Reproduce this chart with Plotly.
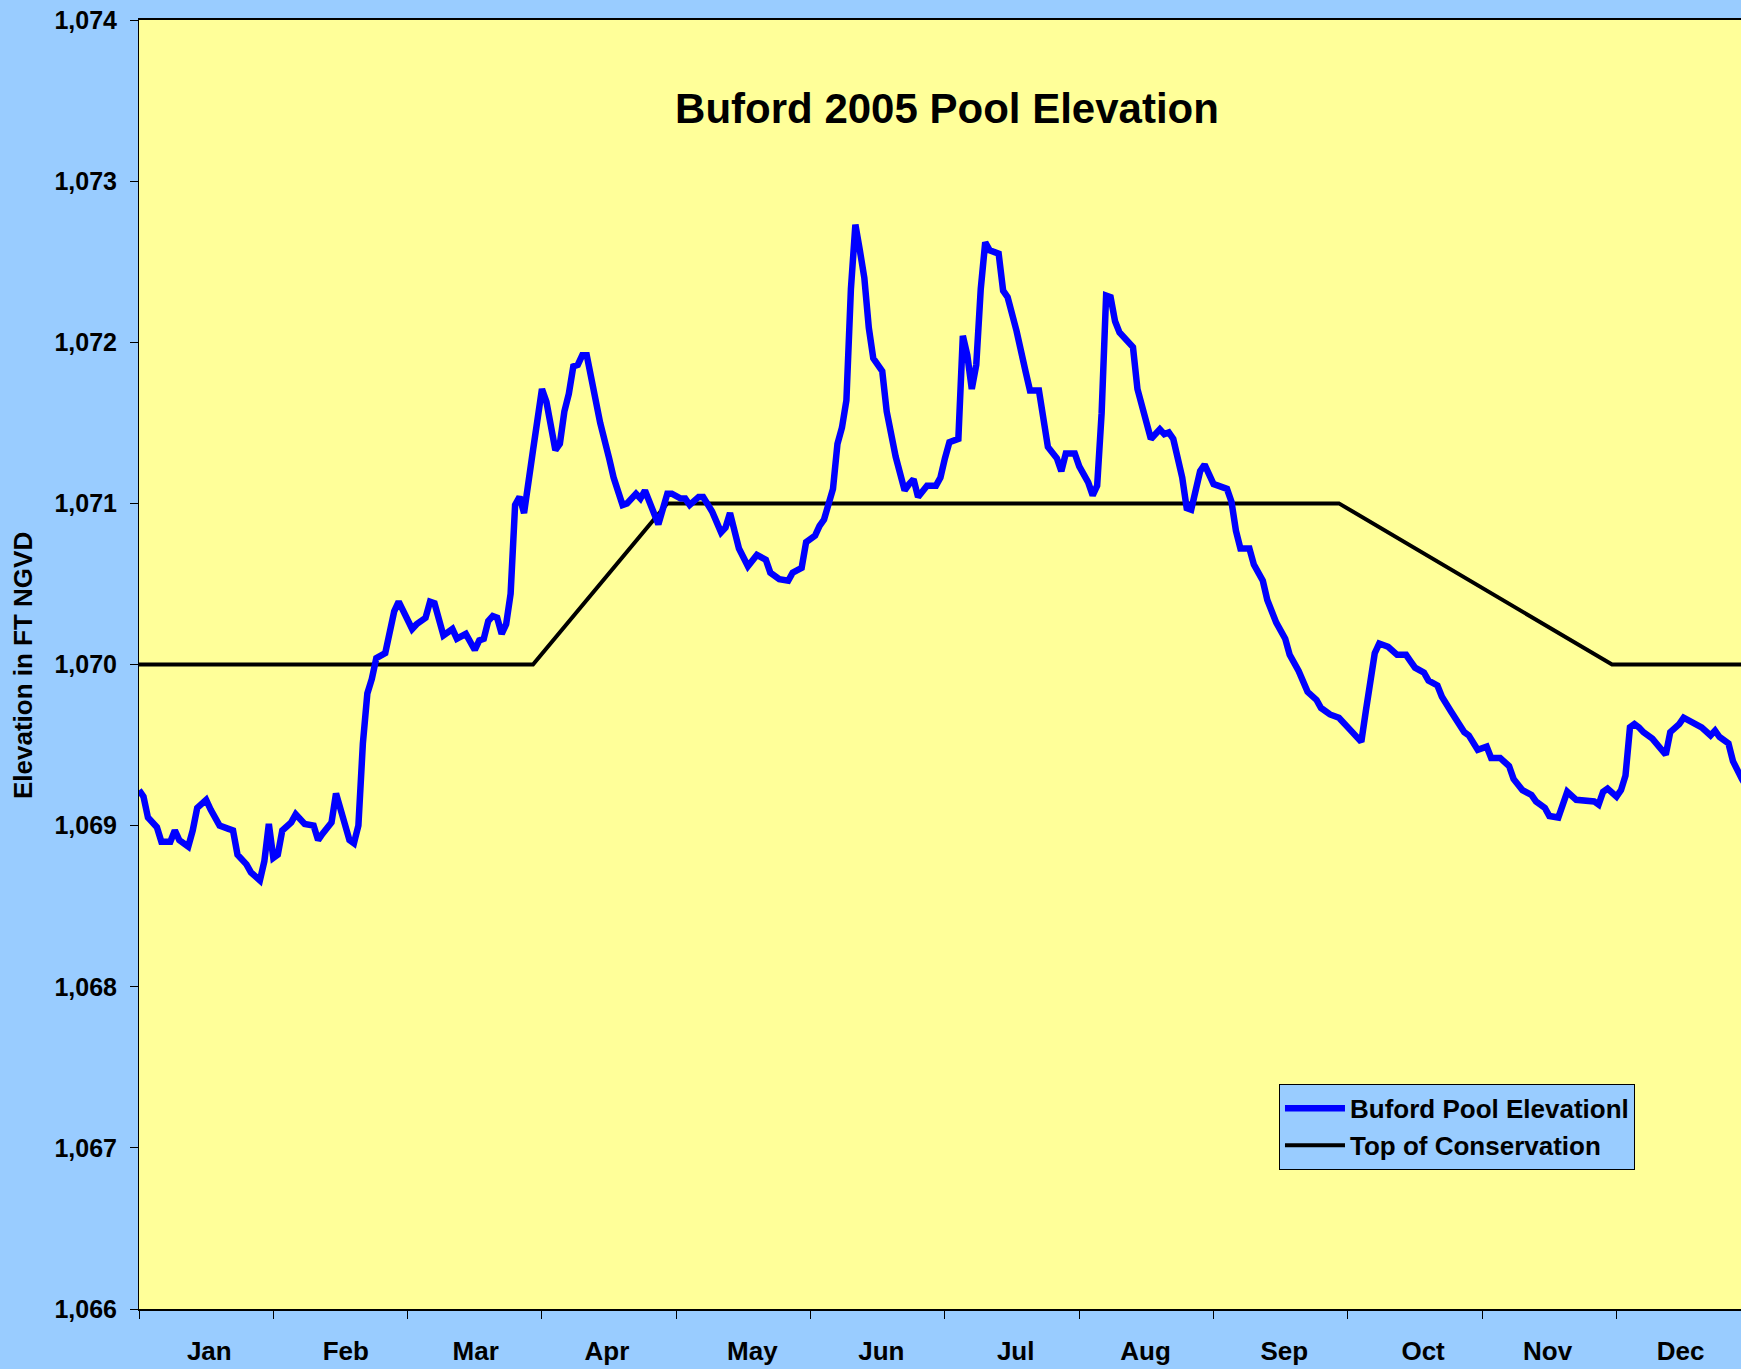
import plotly.graph_objects as go

# ---- data ----
months = ["Jan", "Feb", "Mar", "Apr", "May", "Jun", "Jul", "Aug", "Sep", "Oct", "Nov", "Dec"]
month_starts = [0, 30, 60, 90, 120, 150, 180, 210, 240, 270, 300, 330]
month_label_pos = [15.7, 46.2, 75.2, 104.5, 137, 165.8, 195.8, 224.8, 255.8, 286.8, 314.6, 344.3]

pool_day = [0,1,2,4,5,7,8,9,11,12,13,15,16,18,20,21,22,24,25,27,28,29,30,31,32,34,35,37,39,40,
            41,43,44,46,47,48,49,50,51,52,53,55,56,57,58,59,61,62,64,65,66,68,69,70,71,73,75,76,77,78,
            79,80,81,82,83,84,85,86,88,89,90,91,93,94,95,96,97,98,99,100,102,103,105,106,108,109,111,112,113,115,
            116,118,119,121,122,123,125,126,128,130,131,132,133,134,136,137,138,140,141,143,145,146,148,149,151,152,153,155,156,157,
            158,159,160,161,162,163,164,166,167,169,170,171,172,173,174,176,178,179,180,181,183,184,185,186,187,188,189,190,192,193,
            194,196,198,199,201,202,203,205,206,207,209,210,212,213,214,215,216,217,218,219,221,222,223,225,226,228,229,230,231,233,
            234,235,236,237,238,240,241,243,244,245,246,248,249,251,252,254,256,257,259,261,263,264,266,268,270,271,273,274,275,276,
            277,279,281,283,284,285,287,288,290,291,293,295,296,297,299,301,302,304,306,307,309,311,312,314,315,317,318,319,321,323,
            325,326,327,328,330,331,332,333,334,335,336,338,340,341,342,344,345,347,349,351,352,353,355,356,358,361]

pool_elev = [1069.22,1069.18,1069.05,1068.99,1068.90,1068.90,1068.97,1068.91,1068.87,1068.97,1069.11,1069.16,1069.10,1069.00,1068.98,1068.97,1068.82,1068.76,1068.71,1068.66,
             1068.78,1069.01,1068.80,1068.82,1068.97,1069.02,1069.07,1069.01,1069.00,1068.91,1068.95,1069.02,1069.20,1069.00,1068.91,1068.89,1069.00,1069.51,1069.82,1069.91,
             1070.04,1070.07,1070.22,1070.33,1070.39,1070.33,1070.22,1070.25,1070.29,1070.39,1070.38,1070.18,1070.20,1070.22,1070.16,1070.19,1070.09,1070.15,1070.16,1070.27,
             1070.30,1070.29,1070.19,1070.25,1070.44,1070.99,1071.04,1070.94,1071.33,1071.54,1071.71,1071.63,1071.33,1071.37,1071.57,1071.68,1071.85,1071.86,1071.92,1071.92,
             1071.61,1071.50,1071.28,1071.16,1070.99,1071.00,1071.06,1071.03,1071.08,1070.94,1070.87,1071.06,1071.06,1071.03,1071.03,1070.99,1071.04,1071.04,1070.95,1070.82,
             1070.85,1070.94,1070.83,1070.72,1070.61,1070.64,1070.68,1070.65,1070.57,1070.53,1070.52,1070.57,1070.60,1070.76,1070.80,1070.86,1070.90,1071.09,1071.37,1071.47,
             1071.64,1072.33,1072.73,1072.57,1072.40,1072.09,1071.90,1071.82,1071.57,1071.29,1071.20,1071.08,1071.12,1071.15,1071.04,1071.11,1071.11,1071.16,1071.28,1071.38,
             1071.40,1072.04,1071.92,1071.71,1071.86,1072.33,1072.62,1072.57,1072.55,1072.32,1072.28,1072.07,1071.82,1071.70,1071.70,1071.52,1071.35,1071.28,1071.20,1071.31,
             1071.31,1071.23,1071.13,1071.05,1071.11,1071.56,1072.29,1072.28,1072.13,1072.06,1071.99,1071.97,1071.71,1071.48,1071.40,1071.46,1071.43,1071.44,1071.40,1071.16,
             1070.97,1070.96,1071.09,1071.20,1071.24,1071.12,1071.11,1071.09,1071.01,1070.83,1070.72,1070.72,1070.62,1070.52,1070.40,1070.26,1070.16,1070.06,1069.96,1069.83,
             1069.78,1069.73,1069.69,1069.67,1069.61,1069.58,1069.52,1069.71,1069.92,1070.07,1070.13,1070.11,1070.06,1070.06,1070.02,1069.98,1069.95,1069.90,1069.87,1069.80,
             1069.71,1069.62,1069.58,1069.56,1069.47,1069.49,1069.42,1069.42,1069.37,1069.29,1069.22,1069.19,1069.15,1069.11,1069.06,1069.05,1069.13,1069.21,1069.16,1069.15,
             1069.15,1069.13,1069.21,1069.23,1069.18,1069.22,1069.31,1069.61,1069.63,1069.61,1069.58,1069.54,1069.47,1069.44,1069.58,1069.63,1069.67,1069.64,1069.61,1069.56,
             1069.59,1069.55,1069.51,1069.40,1069.29,1069.15]

tc_day = [0, 88, 118, 268, 329, 365]
tc_elev = [1070, 1070, 1071, 1071, 1070, 1070]

FONT = "Liberation Sans, Arial, sans-serif"

fig = go.Figure()
fig.add_trace(go.Scatter(
    x=tc_day, y=tc_elev, mode="lines", name="Top of Conservation",
    line=dict(color="#000000", width=4), legendrank=2))
fig.add_trace(go.Scatter(
    x=pool_day, y=pool_elev, mode="lines", name="Buford Pool Elevationl",
    line=dict(color="#0000FF", width=6.5), legendrank=1))

fig.update_layout(
    width=1741, height=1369,
    paper_bgcolor="#99CCFF", plot_bgcolor="#FFFF99",
    margin=dict(l=139, r=0, t=20, b=60, autoexpand=False),
    font=dict(family=FONT, color="#000000"),
    title=dict(text="Buford 2005 Pool Elevation", x=947/1741, xanchor="center",
               y=1-108/1369, yanchor="middle",
               font=dict(family=FONT, size=42, weight="bold", color="#000000")),
    showlegend=True,
    legend=dict(x=0.7116, y=0.1746, xanchor="left", yanchor="top",
                bgcolor="#99CCFF", bordercolor="#000000", borderwidth=1,
                font=dict(family=FONT, size=26, weight="bold"),
                itemwidth=60),
    xaxis=dict(range=[0, 357.8], showgrid=False, zeroline=False,
               showline=True, linecolor="#000000", linewidth=1.5, mirror=True,
               tickvals=month_label_pos, ticktext=months, ticks="",
               tickfont=dict(family=FONT, size=26, weight="bold"),
               ticklabelstandoff=18,
               minor=dict(tickvals=month_starts, ticks="outside", ticklen=8,
                          tickcolor="#000000", tickwidth=1, showgrid=False)),
    yaxis=dict(range=[1066, 1074], dtick=1, tick0=1066, tickformat=",d",
               showgrid=False, zeroline=False,
               showline=True, linecolor="#000000", linewidth=1,
               ticks="outside", ticklen=8, tickcolor="#000000",
               tickfont=dict(family=FONT, size=25, weight="bold"),
               ticklabelstandoff=8),
    annotations=[dict(text="Elevation in FT NGVD", textangle=-90,
                      xref="paper", yref="paper", x=(23-139)/1602, y=0.4988,
                      xanchor="center", yanchor="middle", showarrow=False,
                      font=dict(family=FONT, size=26, weight="bold", color="#000000"))],
)

fig.write_html("out.html", config={"displayModeBar": False},
               post_script="document.body.style.margin='0';document.body.style.background='#99CCFF';")
